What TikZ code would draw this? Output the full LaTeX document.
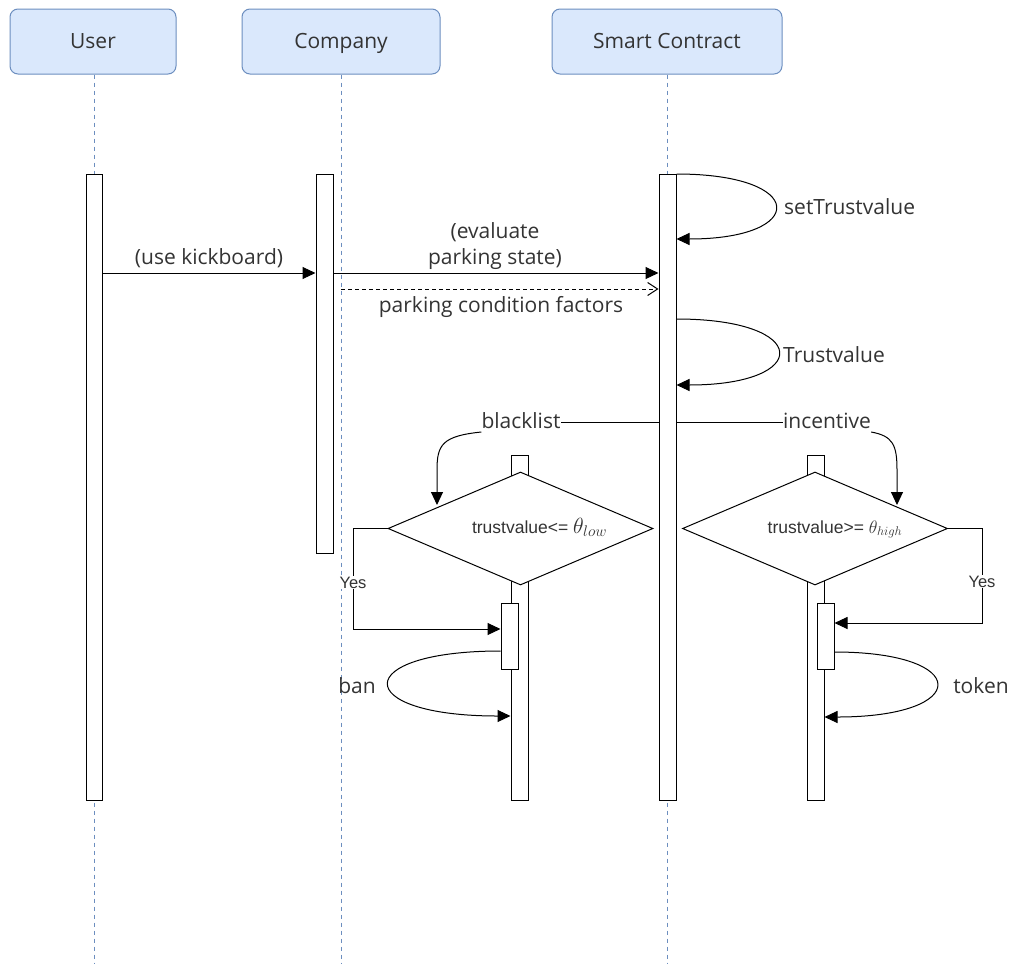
\RequirePackage{fix-cm}
\documentclass[tikz,border=0pt]{standalone}
\usepackage{fontspec}
\setmainfont{Open Sans}
\newfontfamily\arialf{Liberation Sans}
\usetikzlibrary{arrows.meta,shapes.geometric}
\definecolor{hdrfill}{HTML}{DAE8FC}
\definecolor{hdrline}{HTML}{6C8EBF}
\definecolor{txt}{HTML}{333333}
\begin{document}
\begin{tikzpicture}[x=1pt,y=-1pt,
  every node/.style={font=\fontsize{21}{25}\selectfont, text=txt},
  header/.style={draw=hdrline, fill=hdrfill, rounded corners=8pt, line width=1pt, minimum height=65pt, inner sep=0},
  lifeline/.style={draw=hdrline, dash pattern=on 4pt off 4pt, line width=0.8pt},
  actbar/.style={draw=black, fill=white, line width=1pt, minimum width=17pt, inner sep=0},
  dec/.style={draw=black, fill=white, line width=1pt, diamond, minimum width=265pt, minimum height=113pt, inner sep=0},
  msg/.style={draw=black, line width=1pt, -{Triangle[length=13pt,width=12pt]}},
  ret/.style={draw=black, line width=1pt, dash pattern=on 4pt off 3pt, -{Straight Barb[length=10pt,width=13pt]}},
  lbl/.style={inner sep=0, anchor=base},
  yeslbl/.style={fill=white, inner sep=1pt, anchor=base, font=\arialf\fontsize{16.5}{18}\selectfont},
  cond/.style={inner sep=0, anchor=base, font=\arialf\fontsize{17.5}{20}\selectfont}
]
\useasboundingbox (0,0) rectangle (1011,964);

% headers
\node[header, minimum width=166pt] (user) at (93,41.5) {};
\node[header, minimum width=198pt] (comp) at (341,41.5) {};
\node[header, minimum width=230pt] (sc) at (667,41.5) {};
\node[lbl] (usert) at (93,48) {User};
\node[lbl] (compt) at (341,48) {Company};
\node[lbl] (sct) at (667,48) {Smart Contract};

% lifeline ends
\coordinate (uend) at (94,964);
\coordinate (cend) at (341,964);
\coordinate (send) at (667,964);
\draw[lifeline] (user.south -| uend) -- (uend);
\draw[lifeline] (comp.south -| cend) -- (cend);
\draw[lifeline] (sc.south -| send) -- (send);

% activation bars
\node[actbar, minimum width=16pt, minimum height=626pt] (ubar) at (94,487) {};
\node[actbar, minimum height=379pt] (cbar) at (324.5,363.5) {};
\node[actbar, minimum height=626pt] (sbar) at (667.5,487) {};
\node[actbar, minimum height=345pt] (blbar) at (519.5,627.5) {};
\node[actbar, minimum height=345pt] (inbar) at (815.5,627.5) {};

% message rows
\coordinate (r1) at (0,273);
\coordinate (r2) at (0,289);
\draw[msg] (ubar.east |- r1) -- (cbar.west |- r1);
\node[lbl] (usek) at (209,264) {(use kickboard)};
\draw[msg] (cbar.east |- r1) -- (sbar.west |- r1);
\node[lbl] (eval1) at (495,238) {(evaluate};
\node[lbl] (eval2) at (495,264) {parking state)};
\draw[ret] (cend |- r2) -- (sbar.west |- r2);
\node[lbl] (pcf) at (501,312) {parking condition factors};

% self loops
\coordinate (l1a) at (0,174);
\coordinate (l1b) at (0,239);
\coordinate (l2a) at (0,319);
\coordinate (l2b) at (0,385);
\draw[msg] (sbar.east |- l1a) .. controls (808,174) and (808,239) .. (sbar.east |- l1b);
\node[lbl, anchor=base west] (setT) at (784,214) {setTrustvalue};
\draw[msg] (sbar.east |- l2a) .. controls (812,319) and (812,385) .. (sbar.east |- l2b);
\node[lbl, anchor=base west] (trustv) at (783,362) {Trustvalue};

% decisions
\node[dec] (dL) at (520.5,528.5) {};
\node[dec] (dR) at (815,528.5) {};
\node[cond] (tL) at (539.5,533) {trustvalue<= {\fontsize{22}{24}\selectfont$\theta_{low}$}};
\node[cond] (tR) at (835,533) {trustvalue>= {\fontsize{18}{20}\selectfont$\theta_{high}$}};

% branch labels
\node[lbl] (bl) at (521,428) {blacklist};
\node[lbl] (inc) at (827,428) {incentive};
\coordinate (rb) at (0,422);
\draw[line width=1pt] (sbar.west |- rb) -- (bl.east |- rb);
\draw[line width=1pt] (sbar.east |- rb) -- (inc.west |- rb);
\coordinate (blt) at (437,505);
\coordinate (int) at (897,505);
\coordinate (bls) at (482,432);
\coordinate (ins) at (862,432);
\draw[msg] (bl.west |- bls) .. controls (442,436) and (437,445) .. (437,470) -- (blt);
\draw[msg] (inc.east |- ins) .. controls (893,436) and (897,445) .. (897,470) -- (int);

% inner bars
\node[actbar, minimum height=66pt] (blin) at (509.5,636) {};
\node[actbar, minimum height=66pt] (inin) at (825.5,636) {};

% yes branches
\coordinate (yL) at (353,629);
\coordinate (yR) at (982,623);
\draw[msg] (dL.west) -| (yL) -- (blin.west |- yL);
\draw[msg] (dR.east) -| (yR) -- (inin.east |- yR);
\node[yeslbl] (yesL) at (353,588) {Yes};
\node[yeslbl] (yesR) at (982,587) {Yes};

% ban / token loops
\coordinate (b1) at (0,651);
\coordinate (b2) at (0,716);
\draw[msg] (blin.west |- b1) .. controls (350,651) and (350,716) .. (blbar.west |- b2);
\node[lbl] (ban) at (357,693) {ban};
\coordinate (t1) at (0,652);
\coordinate (t2) at (0,717);
\draw[msg] (inin.east |- t1) .. controls (972,652) and (972,717) .. (inbar.east |- t2);
\node[lbl] (token) at (981,693) {token};
\end{tikzpicture}
\end{document}
